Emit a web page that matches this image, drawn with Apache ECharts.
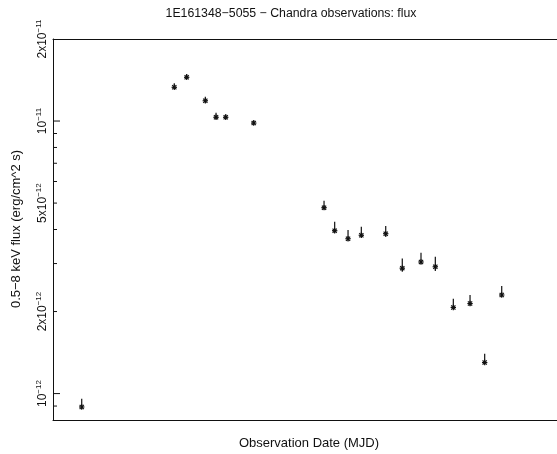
<!DOCTYPE html>
<html><head><meta charset="utf-8">
<script src="https://cdn.jsdelivr.net/npm/echarts@6/dist/echarts.min.js"></script>
<style>html,body{margin:0;padding:0;background:#fff}#c{width:557px;height:454px}</style>
</head><body><div id="c"></div>
<script>
// Observation dates (MJD) and 0.5-8 keV flux (erg/cm^2 s)
const obsMJD   = [51459, 52616, 52771, 53004, 53138, 53259, 53609, 54488, 54621, 54788, 54954, 55259, 55466, 55700, 55879, 56104, 56313, 56496, 56709];
const flux     = [0.893e-12, 1.33e-11, 1.447e-11, 1.187e-11, 1.032e-11, 1.032e-11, 0.983e-11, 4.81e-12, 3.96e-12, 3.70e-12, 3.81e-12, 3.86e-12, 2.885e-12, 3.04e-12, 2.92e-12, 2.07e-12, 2.14e-12, 1.30e-12, 2.30e-12];
const fluxLow  = [0.878e-12, 1.31e-11, 1.425e-11, 1.168e-11, 1.015e-11, 1.015e-11, 0.967e-11, 4.73e-12, 3.89e-12, 3.64e-12, 3.74e-12, 3.76e-12, 2.80e-12, 2.99e-12, 2.82e-12, 2.04e-12, 2.10e-12, 1.28e-12, 2.26e-12];
const fluxHigh = [0.958e-12, 1.375e-11, 1.488e-11, 1.227e-11, 1.073e-11, 1.059e-11, 1.006e-11, 5.10e-12, 4.27e-12, 3.98e-12, 4.09e-12, 4.12e-12, 3.13e-12, 3.29e-12, 3.18e-12, 2.23e-12, 2.30e-12, 1.40e-12, 2.48e-12];

// Axis settings / tick values
const xRange = [51100, 57400];
const yRange = [8e-13, 2e-11];
const yTickMajor = [1e-12, 1e-11];
const yTickMinor = [9e-13, 2e-12, 3e-12, 4e-12, 5e-12, 6e-12, 7e-12, 8e-12, 9e-12];
const yLabelValues = [1e-12, 2e-12, 5e-12, 1e-11, 2e-11];
const yLabelMant = ['', '2x', '5x', '', '2x'];
const yLabelExp  = ['\u221212', '\u221212', '\u221212', '\u221211', '\u221211'];

const FONT = '"Liberation Sans", Arial, Helvetica, sans-serif';
const INK = '#111';

const pointData = obsMJD.map((m, i) => [m, flux[i], fluxLow[i], fluxHigh[i]]);
const tickData = yTickMajor.map(v => [xRange[0], v, 1]).concat(yTickMinor.map(v => [xRange[0], v, 0]));
const labelData = yLabelValues.map((v, i) => [xRange[0], v, i]);

const chart = echarts.init(document.getElementById('c'), null, {renderer: 'canvas'});
chart.setOption({
  animation: false,
  backgroundColor: '#fff',
  grid: {left: 53, right: 0, top: 39, bottom: 34},
  xAxis: [
    {type: 'value', min: xRange[0], max: xRange[1], position: 'bottom',
     axisLine: {show: true, onZero: false, lineStyle: {color: INK, width: 1}},
     axisTick: {show: false}, axisLabel: {show: false}, splitLine: {show: false}},
    {type: 'value', min: xRange[0], max: xRange[1], position: 'top',
     axisLine: {show: true, onZero: false, lineStyle: {color: INK, width: 1}},
     axisTick: {show: false}, axisLabel: {show: false}, splitLine: {show: false}}
  ],
  yAxis: {type: 'log', logBase: 10, min: yRange[0], max: yRange[1],
    axisLine: {show: true, onZero: false, lineStyle: {color: INK, width: 1}},
    axisTick: {show: false}, axisLabel: {show: false}, splitLine: {show: false}},
  graphic: [
    {type: 'text', x: 291, y: 14, style: {text: '1E161348\u22125055 \u2212 Chandra observations: flux', font: '12.3px ' + FONT, fill: INK, align: 'center', verticalAlign: 'middle'}},
    {type: 'text', x: 309, y: 443, style: {text: 'Observation Date (MJD)', font: '13px ' + FONT, fill: INK, align: 'center', verticalAlign: 'middle'}},
    {type: 'text', x: 16, y: 229, rotation: Math.PI / 2, style: {text: '0.5\u22128 keV flux (erg/cm^2 s)', font: '13px ' + FONT, fill: INK, align: 'center', verticalAlign: 'middle'}}
  ],
  series: [
    {type: 'custom', coordinateSystem: 'cartesian2d', data: tickData, silent: true,
     renderItem: function (params, api) {
       const p = api.coord([api.value(0), api.value(1)]);
       const len = api.value(2) ? 7 : 4;
       return {type: 'line', shape: {x1: p[0], y1: p[1], x2: p[0] + len, y2: p[1]}, style: {stroke: INK, lineWidth: 1}};
     }},
    {type: 'custom', coordinateSystem: 'cartesian2d', data: labelData, silent: true, clip: false,
     renderItem: function (params, api) {
       const p = api.coord([api.value(0), api.value(1)]);
       const i = api.value(2);
       return {type: 'text', x: 42, y: p[1], rotation: Math.PI / 2,
         style: {text: '{m|' + yLabelMant[i] + '10}{e|' + yLabelExp[i] + '}', align: 'center', verticalAlign: 'middle', fill: INK,
           rich: {m: {fontSize: 12, fontFamily: FONT, fill: INK, lineHeight: 14, verticalAlign: 'bottom'},
                  e: {fontSize: 8, fontFamily: FONT, fill: INK, lineHeight: 14, verticalAlign: 'top', padding: [0, 0, 4, 0]}}}};
     }},
    {type: 'custom', coordinateSystem: 'cartesian2d', data: pointData, silent: true,
     renderItem: function (params, api) {
       const x = api.value(0);
       const c = api.coord([x, api.value(1)]);
       const lo = api.coord([x, api.value(2)]);
       const hi = api.coord([x, api.value(3)]);
       const r = 2.7, d = 2.1;
       const st = {stroke: INK, lineWidth: 1.2};
       return {type: 'group', children: [
         {type: 'line', shape: {x1: c[0], y1: lo[1], x2: c[0], y2: hi[1]}, style: st},
         {type: 'line', shape: {x1: c[0] - r, y1: c[1], x2: c[0] + r, y2: c[1]}, style: st},
         {type: 'line', shape: {x1: c[0], y1: c[1] - r, x2: c[0], y2: c[1] + r}, style: st},
         {type: 'line', shape: {x1: c[0] - d, y1: c[1] - d, x2: c[0] + d, y2: c[1] + d}, style: st},
         {type: 'line', shape: {x1: c[0] - d, y1: c[1] + d, x2: c[0] + d, y2: c[1] - d}, style: st}
       ]};
     }}
  ]
});
</script>
</body></html>
